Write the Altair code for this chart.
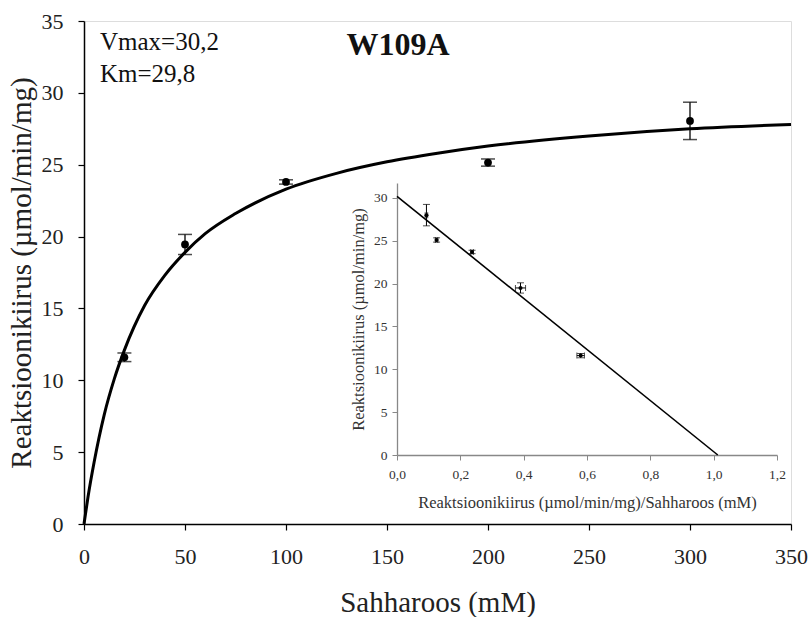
import altair as alt
import pandas as pd

# ---- main plot data (Michaelis-Menten) ----
S = [20, 50, 100, 200, 300]
V = [11.6, 19.45, 23.8, 25.15, 28.05]
V_ERR = [0.3, 0.7, 0.15, 0.25, 1.3]

CURVE_S = [0, 2, 5, 10, 15, 20, 30, 40, 50, 60, 75, 100, 125, 150, 175, 200, 250, 300, 350]
CURVE_V = [0, 1.9, 4.3, 7.6, 10.1, 12.1, 15.2, 17.3, 18.9, 20.2, 21.6, 23.3, 24.4, 25.2, 25.8, 26.3, 27.0, 27.5, 27.8]

X_TICKS = [0, 50, 100, 150, 200, 250, 300, 350]
Y_TICKS = [0, 5, 10, 15, 20, 25, 30, 35]

# ---- inset data (Eadie-Hofstee) ----
VS = [0.093, 0.125, 0.237, 0.39, 0.58]
VS_ERR = [0.004, 0.004, 0.004, 0.016, 0.012]
VI = [28.0, 25.1, 23.7, 19.5, 11.6]
VI_ERR = [1.25, 0.25, 0.2, 0.6, 0.25]
LINE_X = [0.0, 1.013]
LINE_Y = [30.2, 0.0]
IX_TICKS = [0.0, 0.2, 0.4, 0.6, 0.8, 1.0, 1.2]
IY_TICKS = [0, 5, 10, 15, 20, 25, 30]

# ---- annotations ----
ANNOT_TEXT = ["Vmax=30,2", "Km=29,8"]
ANNOT_X = [7.9, 7.9]
ANNOT_Y = [33.0, 30.75]
TITLE_TEXT = ["W109A"]
TITLE_X = [155.5]
TITLE_Y = [32.6]

FONT = "'Liberation Serif', 'Times New Roman', Times, serif"

pts = pd.DataFrame({"S": S, "V": V, "lo": [v - e for v, e in zip(V, V_ERR)],
                    "hi": [v + e for v, e in zip(V, V_ERR)]})
curve = pd.DataFrame({"S": CURVE_S, "V": CURVE_V})
ipts = pd.DataFrame({"x": VS, "y": VI,
                     "xlo": [a - b for a, b in zip(VS, VS_ERR)],
                     "xhi": [a + b for a, b in zip(VS, VS_ERR)],
                     "ylo": [a - b for a, b in zip(VI, VI_ERR)],
                     "yhi": [a + b for a, b in zip(VI, VI_ERR)]})
iline = pd.DataFrame({"x": LINE_X, "y": LINE_Y})
annot = pd.DataFrame({"t": ANNOT_TEXT, "S": ANNOT_X, "V": ANNOT_Y})
ttl = pd.DataFrame({"t": TITLE_TEXT, "S": TITLE_X, "V": TITLE_Y})

xs = alt.Scale(domain=[0, 350], nice=False)
ys = alt.Scale(domain=[0, 35], nice=False)

x_axis = alt.Axis(values=X_TICKS, title="Sahharoos (mM)", grid=False, labelFlush=False,
                  domainColor="black", domainWidth=1.5, tickColor="black", tickWidth=1.2,
                  tickSize=6, labelFontSize=22, labelPadding=16, labelColor="#222",
                  labelFont=FONT, titleFont=FONT, titleFontSize=29, titleFontWeight="normal",
                  titleColor="#222", titlePadding=21, orient="bottom")
y_axis = alt.Axis(values=Y_TICKS, title="Reaktsioonikiirus (µmol/min/mg)", grid=False,
                  labelFlush=False,
                  domainColor="black", domainWidth=1.5, tickColor="black", tickWidth=1.2,
                  tickSize=6, labelFontSize=22, labelPadding=15, labelColor="#222",
                  labelFont=FONT, titleFont=FONT, titleFontSize=29, titleFontWeight="normal",
                  titleColor="#222", titlePadding=5, orient="left")

X = alt.X("S:Q", scale=xs, axis=x_axis)
Y = alt.Y("V:Q", scale=ys, axis=y_axis)

base_curve = alt.Chart(curve).mark_line(color="black", strokeWidth=3, interpolate="monotone").encode(
    x=X, y=Y)
err_rule = alt.Chart(pts).mark_rule(color="black", strokeWidth=1.3).encode(
    x=alt.X("S:Q", scale=xs), y=alt.Y("lo:Q", scale=ys), y2="hi:Q")
cap_lo = alt.Chart(pts).mark_tick(color="black", orient="horizontal", size=14, thickness=1.5).encode(
    x=alt.X("S:Q", scale=xs), y=alt.Y("lo:Q", scale=ys))
cap_hi = alt.Chart(pts).mark_tick(color="black", orient="horizontal", size=14, thickness=1.5).encode(
    x=alt.X("S:Q", scale=xs), y=alt.Y("hi:Q", scale=ys))
dots = alt.Chart(pts).mark_point(filled=True, color="black", size=60, opacity=1).encode(
    x=alt.X("S:Q", scale=xs), y=alt.Y("V:Q", scale=ys))
annot_txt = alt.Chart(annot).mark_text(font=FONT, fontSize=25, align="left", baseline="alphabetic",
                                       color="#111").encode(
    x=alt.X("S:Q", scale=xs), y=alt.Y("V:Q", scale=ys), text="t:N")
title_txt = alt.Chart(ttl).mark_text(font=FONT, fontSize=32, fontWeight="bold", align="center",
                                     baseline="alphabetic", color="#111").encode(
    x=alt.X("S:Q", scale=xs), y=alt.Y("V:Q", scale=ys), text="t:N")

main = alt.layer(base_curve, err_rule, cap_lo, cap_hi, dots, annot_txt, title_txt)

# ---- inset with its own scales placed inside the plot area ----
ixs = alt.Scale(domain=[0, 1.2], range=[313, 693], nice=False)
iys = alt.Scale(domain=[0, 31.75], range=[434, 162], nice=False)

ix_axis = alt.Axis(values=IX_TICKS, orient="bottom", offset=-69, grid=False, labelFlush=False,
                   title="Reaktsioonikiirus (µmol/min/mg)/Sahharoos (mM)",
                   labelExpr="replace(format(datum.value, '.1f'), '.', ',')",
                   domainColor="#888", tickColor="#888", domainWidth=1.3, tickSize=5,
                   labelFont=FONT, labelFontSize=13.5, labelColor="#333", labelPadding=7,
                   titleFont=FONT, titleFontSize=16.5, titleFontWeight="normal", titleColor="#333",
                   titlePadding=14)
iy_axis = alt.Axis(values=IY_TICKS, orient="left", offset=-313, grid=False, labelFlush=False,
                   title="Reaktsioonikiirus (µmol/min/mg)",
                   domainColor="#888", tickColor="#888", domainWidth=1.3, tickSize=5,
                   labelFont=FONT, labelFontSize=13.5, labelColor="#333", labelPadding=5,
                   titleFont=FONT, titleFontSize=16.5, titleFontWeight="normal", titleColor="#333",
                   titlePadding=7)

i_line = alt.Chart(iline).mark_line(color="black", strokeWidth=1.6).encode(
    x=alt.X("x:Q", scale=ixs, axis=ix_axis), y=alt.Y("y:Q", scale=iys, axis=iy_axis))
i_vrule = alt.Chart(ipts).mark_rule(color="black", strokeWidth=1).encode(
    x=alt.X("x:Q", scale=ixs), y=alt.Y("ylo:Q", scale=iys), y2="yhi:Q")
i_hrule = alt.Chart(ipts).mark_rule(color="black", strokeWidth=1).encode(
    x=alt.X("xlo:Q", scale=ixs), x2="xhi:Q", y=alt.Y("y:Q", scale=iys))
i_caplo = alt.Chart(ipts).mark_tick(color="black", orient="horizontal", size=7, thickness=1).encode(
    x=alt.X("x:Q", scale=ixs), y=alt.Y("ylo:Q", scale=iys))
i_caphi = alt.Chart(ipts).mark_tick(color="black", orient="horizontal", size=7, thickness=1).encode(
    x=alt.X("x:Q", scale=ixs), y=alt.Y("yhi:Q", scale=iys))
i_capl = alt.Chart(ipts).mark_tick(color="black", orient="vertical", size=6, thickness=1).encode(
    x=alt.X("xlo:Q", scale=ixs), y=alt.Y("y:Q", scale=iys))
i_capr = alt.Chart(ipts).mark_tick(color="black", orient="vertical", size=6, thickness=1).encode(
    x=alt.X("xhi:Q", scale=ixs), y=alt.Y("y:Q", scale=iys))
i_dots = alt.Chart(ipts).mark_point(filled=True, color="black", size=16, opacity=1).encode(
    x=alt.X("x:Q", scale=ixs), y=alt.Y("y:Q", scale=iys))

inset = alt.layer(i_line, i_vrule, i_hrule, i_caplo, i_caphi, i_capl, i_capr, i_dots)

chart = alt.layer(main, inset).resolve_scale(x="independent", y="independent").resolve_axis(
    x="independent", y="independent"
).properties(
    width=707, height=503,
    autosize=alt.AutoSizeParams(type="none"),
    padding={"left": 84, "top": 21, "right": 17, "bottom": 93},
    background="white",
).configure_view(stroke=None).configure(font=FONT)

chart.save("out.html", embed_options={"renderer": "svg", "actions": False})
